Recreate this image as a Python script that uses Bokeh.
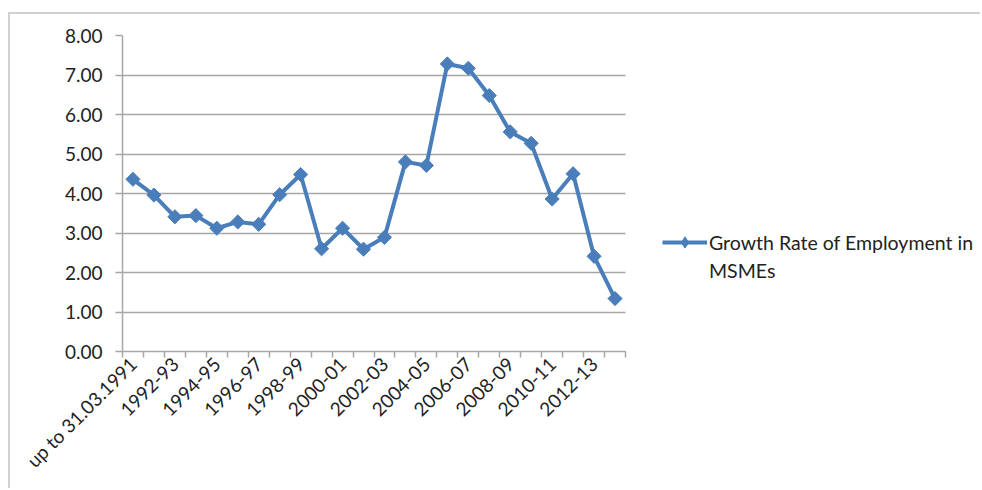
import math
from bokeh.plotting import figure
from bokeh.models import (ColumnDataSource, FixedTicker, Range1d, Legend, LegendItem,
                          NumeralTickFormatter)
from bokeh.embed import file_html
from bokeh.resources import INLINE

categories = ["up to 31.03.1991", "1991-92", "1992-93", "1993-94", "1994-95", "1995-96",
              "1996-97", "1997-98", "1998-99", "1999-00", "2000-01", "2001-02", "2002-03",
              "2003-04", "2004-05", "2005-06", "2006-07", "2007-08", "2008-09", "2009-10",
              "2010-11", "2011-12", "2012-13", "2013-14"]
growth_rate = [4.36, 3.96, 3.41, 3.44, 3.12, 3.28, 3.22, 3.97, 4.48, 2.60, 3.12, 2.59,
               2.89, 4.80, 4.71, 7.28, 7.17, 6.48, 5.56, 5.27, 3.86, 4.50, 2.41, 1.34]
y_ticks = [0, 1, 2, 3, 4, 5, 6, 7, 8]
series_name = ["Growth Rate of Employment in", "MSMEs"]

FONT = "Lato"
BLUE = "#4a7ebb"
GRID = "#a6a6a6"

# layout (pixels): plot area width 503 inside a frame of 858 that also hosts the legend
PLOT_W, FRAME_W = 503, 858
n = len(categories)
x_lo, x_hi = -0.5, n - 0.5
x_end = x_lo + (x_hi - x_lo) * FRAME_W / PLOT_W

idx = list(range(n))
src = ColumnDataSource(data=dict(x=idx, y=growth_rate, cat=categories))

p = figure(width=972, height=476, output_backend="svg", toolbar_location=None,
           x_range=Range1d(x_lo, x_end), y_range=Range1d(0, 8),
           min_border_left=112, min_border_right=2, min_border_top=21, min_border_bottom=139)
p.styles = {"margin-left": "8px", "margin-top": "12px",
            "border-left": "2px solid #d0d0d0", "border-top": "2px solid #d0d0d0"}
p.outline_line_color = None
p.background_fill_color = "white"
p.border_fill_color = "white"

r_line = p.line("x", "y", source=src, line_color=BLUE, line_width=4)
r_pts = p.scatter("x", "y", source=src, marker="square", angle=math.pi / 4, size=10,
                  fill_color=BLUE, line_color=BLUE)
# legend-only marker glyph (a single NaN point, never drawn in the plot)
r_leg = p.scatter(x=[float("nan")], y=[float("nan")], marker="diamond", size=14,
                  fill_color=BLUE, line_color=BLUE)
r_dummy = p.line([0], [0], line_alpha=0)

# x axis
p.xaxis.bounds = (x_lo, x_hi)
p.xaxis.ticker = FixedTicker(ticks=[i for i in idx if i % 2 == 0],
                             minor_ticks=[i - 0.5 for i in range(n + 1)])
p.xaxis.major_label_overrides = {i: categories[i] for i in idx if i % 2 == 0}
p.xaxis.major_label_orientation = math.pi / 4
p.xaxis.major_tick_line_color = None
p.xaxis.minor_tick_in = 0
p.xaxis.minor_tick_out = 6
p.xaxis.minor_tick_line_color = GRID
p.xaxis.minor_tick_line_width = 1.5
p.xaxis.axis_line_color = GRID
p.xaxis.axis_line_width = 1.5
p.xaxis.major_label_text_font = FONT
p.xaxis.major_label_text_font_size = "19px"
p.xaxis.major_label_text_color = "#222222"
p.xaxis.major_label_standoff = 3

# y axis
p.yaxis.ticker = FixedTicker(ticks=y_ticks)
p.yaxis.formatter = NumeralTickFormatter(format="0.00")
p.yaxis.minor_tick_line_color = None
p.yaxis.major_tick_in = 0
p.yaxis.major_tick_out = 7
p.yaxis.major_tick_line_color = GRID
p.yaxis.major_tick_line_width = 1.5
p.yaxis.axis_line_color = GRID
p.yaxis.axis_line_width = 1.5
p.yaxis.major_label_text_font = FONT
p.yaxis.major_label_text_font_size = "19px"
p.yaxis.major_label_text_color = "#222222"
p.yaxis.major_label_standoff = 13

p.xgrid.grid_line_color = None
p.ygrid.grid_line_color = GRID
p.ygrid.grid_line_width = 1.5
p.ygrid.cross_bounds = (x_lo, x_hi)

legend = Legend(items=[LegendItem(label=series_name[0], renderers=[r_line, r_leg]),
                       LegendItem(label=series_name[1], renderers=[r_dummy])],
                location=(540, 67), orientation="vertical",
                padding=0, margin=0, spacing=0, border_line_color=None,
                background_fill_alpha=0, glyph_width=45, glyph_height=28,
                label_height=20, label_standoff=2,
                label_text_font=FONT, label_text_font_size="19.5px",
                label_text_color="#222222")
p.add_layout(legend)

open("out.html", "w").write(file_html(p, INLINE))
